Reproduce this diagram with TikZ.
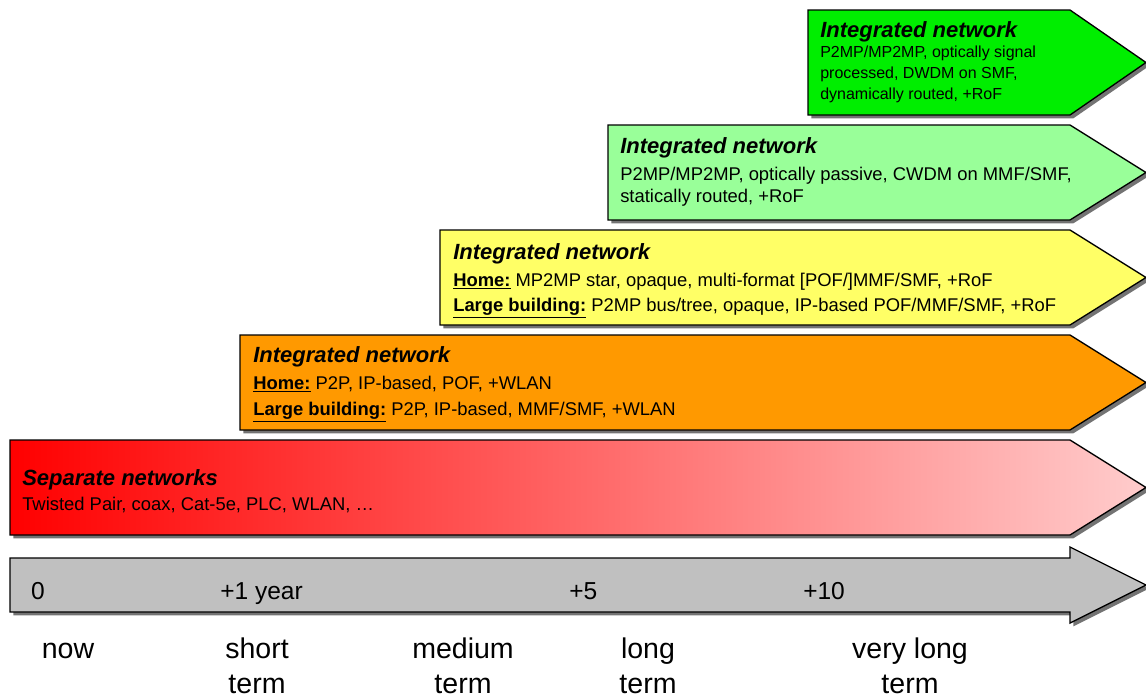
\documentclass[tikz,border=0pt]{standalone}
\usepackage{fontspec}
\setmainfont{Liberation Sans}
\usetikzlibrary{shadows}

\definecolor{netgreen}{HTML}{00EE00}
\definecolor{palegreen}{HTML}{99FF99}
\definecolor{netyellow}{HTML}{FFFF66}
\definecolor{netorange}{HTML}{FF9900}
\definecolor{netred}{HTML}{FF0000}
\definecolor{netpink}{HTML}{FFCCCC}
\definecolor{timegray}{HTML}{C0C0C0}

\tikzset{
  banner/.style={draw=black, line width=1pt,
    general shadow={fill=black!55, shadow xshift=2.5pt, shadow yshift=-2.5pt}},
  headline/.style={anchor=base west, inner sep=0pt,
    font=\fontsize{16.5}{19}\selectfont\bfseries\itshape},
  bodytext/.style={anchor=base west, inner sep=0pt, align=left,
    font=\fontsize{13.8}{#1}\selectfont},
  bodytext/.default=19.5,
  ticklabel/.style={anchor=base west, inner sep=0pt, font=\fontsize{18.4}{22}\selectfont},
  termlabel/.style={anchor=base, inner sep=0pt, align=center,
    font=\fontsize{21.4}{26.25}\selectfont}
}

\begin{document}
\begin{tikzpicture}[x=0.75pt, y=-0.75pt]
\useasboundingbox (0,0) rectangle (1146,697);

% banners, latest on top
\draw[banner, fill=netgreen] (808,10) -- (1070,10) -- (1146,62.5) -- (1070,115) -- (808,115) -- cycle;
\draw[banner, fill=palegreen] (608,125) -- (1070,125) -- (1146,172.5) -- (1070,220) -- (608,220) -- cycle;
\draw[banner, fill=netyellow] (440,230) -- (1070,230) -- (1146,277.5) -- (1070,325) -- (440,325) -- cycle;
\draw[banner, fill=netorange] (240,335) -- (1070,335) -- (1146,382.5) -- (1070,430) -- (240,430) -- cycle;
\draw[banner, left color=netred, right color=netpink] (10,440) -- (1070,440) -- (1146,487.5) -- (1070,535) -- (10,535) -- cycle;

% time axis
\draw[banner, fill=timegray] (10,558) -- (1070,558) -- (1070,547) -- (1146,585) -- (1070,623) -- (1070,612) -- (10,612) -- cycle;

% multi-line texts sit on their last line
\node[headline] (vlong-title) at (820,37) {Integrated network};
\node[bodytext={16}, font=\fontsize{12}{16}\selectfont] (vlong-body) at (820,99.7)
  {P2MP/MP2MP, optically signal\\processed, DWDM on SMF,\\dynamically routed, +RoF};

\node[headline] (long-title) at (620,153) {Integrated network};
\node[bodytext={16.5}] (long-body) at (620,202.5)
  {P2MP/MP2MP, optically passive, CWDM on MMF/SMF,\\statically routed, +RoF};

\node[headline] (medium-title) at (453,259) {Integrated network};
\node[bodytext={18.75}] (medium-body) at (453,311.5)
  {\underline{\textbf{Home:}} MP2MP star, opaque, multi-format [POF/]MMF/SMF, +RoF\\
   \underline{\textbf{Large building:}} P2MP bus/tree, opaque, IP-based POF/MMF/SMF, +RoF};

\node[headline] (short-title) at (253,362) {Integrated network};
\node[bodytext] (short-body) at (253,415.5)
  {\underline{\textbf{Home:}} P2P, IP-based, POF, +WLAN\\
   \underline{\textbf{Large building:}} P2P, IP-based, MMF/SMF, +WLAN};

\node[headline] (now-title) at (22,485) {Separate networks};
\node[bodytext] (now-body) at (22,510.5) {Twisted Pair, coax, Cat-5e, PLC, WLAN, …};

% ticks on the axis
\node[ticklabel, anchor=base] (tick0) at (38,599) {0};
\node[ticklabel] (tick1) at (220,599) {+1 year};
\node[ticklabel] (tick5) at (569,599) {+5};
\node[ticklabel] (tick10) at (803,599) {+10};

\node[termlabel] (now) at (68,658) {now};
\node[termlabel] (short) at (257,693) {short\\term};
\node[termlabel] (medium) at (463,693) {medium\\term};
\node[termlabel] (long) at (648,693) {long\\term};
\node[termlabel] (verylong) at (910,693) {very long\\term};
\end{tikzpicture}
\end{document}
